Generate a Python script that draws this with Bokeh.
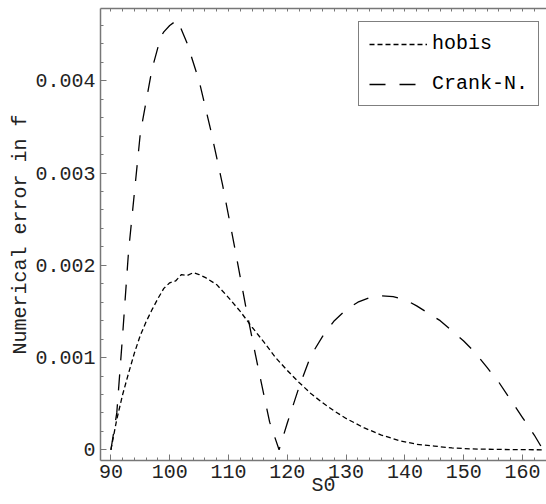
from bokeh.plotting import figure
from bokeh.models import Range1d, LinearAxis, FixedTicker, Legend, LegendItem
from bokeh.embed import file_html
from bokeh.resources import INLINE

# ---- data ----
hobis_x = [90, 91, 92, 93, 94, 95, 96, 97, 98, 99, 100, 101, 102, 103, 104, 105, 106,
           108, 110, 112, 114, 116, 118, 120, 122, 124, 126, 128, 130, 133, 136, 139,
           142, 145, 148, 151, 155, 159, 163.5]
hobis_y = [0, 0.00033, 0.00060, 0.00083, 0.00105, 0.00124, 0.00139, 0.00152, 0.00164,
           0.00175, 0.00181, 0.00183, 0.00190, 0.00189, 0.00192, 0.00190, 0.00187,
           0.00179, 0.00165, 0.00150, 0.00133, 0.00117, 0.00100, 0.00086, 0.00073,
           0.00061, 0.00051, 0.00042, 0.00034, 0.00024, 0.00016, 0.00010, 0.00006,
           0.00004, 0.00002, 0.00001, 0.000005, 0.000002, 0]

crank_x = [90, 91, 92, 93, 95, 97, 98.5, 99, 100, 101.3, 103, 105, 107, 109, 111, 113,
           115, 117, 118.6, 120, 122, 124, 126, 128, 130, 132, 134, 136, 138, 140, 142,
           144, 146, 148, 150, 152, 154, 156, 158, 160, 162, 163.5]
crank_y = [0, 0.00040, 0.00125, 0.00215, 0.00343, 0.00413, 0.00448, 0.00453, 0.00460,
           0.00466, 0.00440, 0.00400, 0.00346, 0.00287, 0.00221, 0.00153, 0.00090,
           0.00030, 0, 0.00029, 0.00068, 0.00102, 0.00123, 0.00140, 0.00152, 0.00160,
           0.00165, 0.00167, 0.00166, 0.00163, 0.00156, 0.00148, 0.00140, 0.00129,
           0.00118, 0.00105, 0.00089, 0.00073, 0.00054, 0.00035, 0.00016, 0]

x_ticks = [90, 100, 110, 120, 130, 140, 150, 160]
x_minor = [v for v in range(88, 165, 2)]
y_ticks = [0, 0.001, 0.002, 0.003, 0.004]
y_tick_labels = {0: "0", 0.001: "0.001", 0.002: "0.002", 0.003: "0.003", 0.004: "0.004"}
y_minor = [round(i * 0.0002, 4) for i in range(0, 25)]
x_title = "S0"
y_title = "Numerical error in f"

FONT = "Liberation Mono"
FS = "20px"
AXIS_COLOR = "#777777"
TEXT_COLOR = "#222222"

p = figure(width=546, height=504, output_backend="svg", toolbar_location=None,
           x_range=Range1d(88.23, 164.08), y_range=Range1d(-0.000116, 0.004784),
           x_axis_label=x_title, y_axis_label=y_title,
           min_border_left=100, min_border_right=0, min_border_top=8, min_border_bottom=44)
p.background_fill_color = "white"
p.border_fill_color = "white"
p.outline_line_color = None
p.grid.visible = False

r1 = p.line(hobis_x, hobis_y, line_color="black", line_width=1.3, line_dash="5 3")
r2 = p.line(crank_x, crank_y, line_color="black", line_width=1.3, line_dash="16 14")


def style_axis(ax):
    ax.axis_line_color = AXIS_COLOR
    ax.axis_line_width = 1.5
    ax.major_tick_line_color = AXIS_COLOR
    ax.minor_tick_line_color = AXIS_COLOR
    ax.major_tick_in = 6
    ax.major_tick_out = 0
    ax.minor_tick_in = 3
    ax.minor_tick_out = 0
    ax.major_label_text_font = FONT
    ax.major_label_text_font_size = FS
    ax.major_label_text_color = TEXT_COLOR
    ax.axis_label_text_font = FONT
    ax.axis_label_text_font_size = FS
    ax.axis_label_text_font_style = "normal"
    ax.axis_label_text_color = TEXT_COLOR


xa = p.xaxis[0]
style_axis(xa)
xa.ticker = FixedTicker(ticks=x_ticks, minor_ticks=x_minor)
xa.major_label_standoff = 4
xa.axis_label_standoff = -7

ya = p.yaxis[0]
style_axis(ya)
ya.ticker = FixedTicker(ticks=y_ticks, minor_ticks=y_minor)
ya.major_label_overrides = y_tick_labels
ya.major_label_standoff = 5
ya.axis_label_standoff = 0

# top frame edge: line with small inward ticks, no labels
top = LinearAxis(ticker=FixedTicker(ticks=[], minor_ticks=x_minor))
style_axis(top)
top.major_label_standoff = 0
top.axis_label = None
p.add_layout(top, "above")

legend = Legend(items=[LegendItem(label="hobis", renderers=[r1]),
                       LegendItem(label="Crank-N.", renderers=[r2])],
                location=(258, 354))
legend.label_text_font = FONT
legend.label_text_font_size = FS
legend.label_text_color = "black"
legend.border_line_color = "black"
legend.border_line_width = 1
legend.background_fill_color = "white"
legend.background_fill_alpha = 1
legend.glyph_width = 58
legend.glyph_height = 22
legend.label_height = 22
legend.label_width = 94
legend.label_standoff = 5
legend.spacing = 17
legend.padding = 10
legend.margin = 0
p.add_layout(legend, "center")

open("out.html", "w").write(file_html(p, INLINE))
